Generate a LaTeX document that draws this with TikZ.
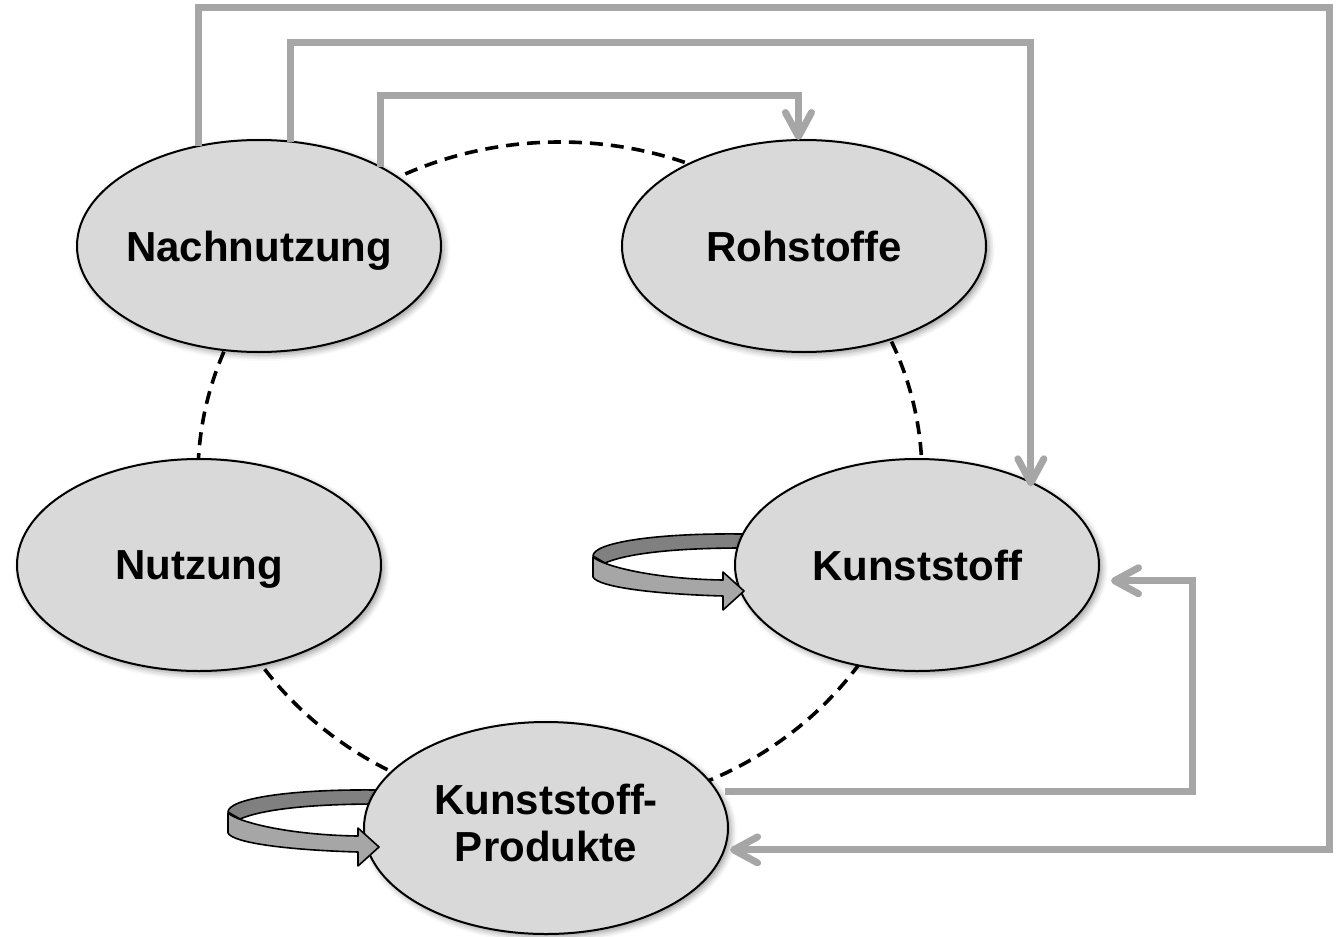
\documentclass[tikz,border=0pt]{standalone}
\usepackage{fontspec}
\setmainfont{Liberation Sans}
\usetikzlibrary{arrows.meta,shapes.geometric,shadows.blur}
\definecolor{connc}{RGB}{166,166,166}
\definecolor{nodefill}{RGB}{217,217,217}
\definecolor{ribbondark}{RGB}{128,128,128}
\definecolor{ribbonlight}{RGB}{166,166,166}
\begin{document}
\begin{tikzpicture}[x=0.5pt,y=-0.5pt,
  stage/.style={ellipse, draw=black, line width=1pt, fill=nodefill,
    minimum width=182pt, minimum height=106pt, inner xsep=-6pt, inner ysep=0pt,
    outer sep=0pt, font=\fontsize{21}{23.5}\selectfont\bfseries, align=center,
    text depth=0pt,
    blur shadow={shadow xshift=1.5pt, shadow yshift=-1.5pt, shadow blur radius=3pt, shadow opacity=40}},
  ring/.style={draw=black, line width=1.8pt, dash pattern=on 6.5pt off 4pt},
  flow/.style={draw=connc, line width=3.5pt, -{Straight Barb[length=12pt,width=13pt,round]}},
  ribbonback/.style={fill=ribbondark, draw=black, line width=0.8pt, line join=round},
  ribbonfront/.style={fill=ribbonlight, draw=black, line width=0.8pt, line join=round},
]
\useasboundingbox (0,0) rectangle (1336,936);

% dashed cycle
\draw[ring] (560,476) ellipse [x radius=181pt, y radius=167pt];

% back parts of the self-loops
\begin{scope}[shift={(593,557)}]
  \path[ribbonback] (149,-23) .. controls (60,-24) and (0,-14) .. (0,-1)
    -- (12,6) .. controls (40,-6) and (100,-9) .. (149,-9) -- cycle;
\end{scope}
\begin{scope}[shift={(228,813)}]
  \path[ribbonback] (149,-23) .. controls (60,-24) and (0,-14) .. (0,-1)
    -- (12,6) .. controls (40,-6) and (100,-9) .. (149,-9) -- cycle;
\end{scope}

% helper coordinates for the connector routes
\coordinate (c1) at (1329,8);
\coordinate (c2) at (0,43);
\coordinate (c3) at (0,96);
\coordinate (c4) at (1192,0);

% stages
\node[stage] (nach) at (259,246) {Nachnutzung};
\node[stage] (roh) at (804,246) {Rohstoffe};
\node[stage] (nutz) at (199,565) {Nutzung};
\node[stage] (kunst) at (917,565) {Kunststoff};
\node[stage, text depth=5pt] (prod) at (546,828) {Kunststoff-\\Produkte};

\draw[flow, shorten >=3pt] (nach.121) |- (c1) |- (prod.-7.4);
\draw[flow, shorten >=-2pt] (nach.73.5) -- (nach.73.5 |- c2) -| (kunst.36.3);
\draw[flow] (nach.33.2) -- (nach.33.2 |- c3) -| (roh.93.8);
\draw[flow, shorten <=4pt, shorten >=7pt] (prod.12.3) -- (prod.12.3 -| c4) |- (kunst.-5.4);

% front parts of the self-loops
\begin{scope}[shift={(593,557)}]
  \path[ribbonfront] (0,0) .. controls (10,9) and (60,22) .. (130,23)
    -- (130,15) -- (151,34) -- (130,53) -- (130,39)
    .. controls (60,37) and (5,30) .. (0,20) -- cycle;
\end{scope}
\begin{scope}[shift={(228,813)}]
  \path[ribbonfront] (0,0) .. controls (10,9) and (60,22) .. (130,23)
    -- (130,15) -- (151,34) -- (130,53) -- (130,39)
    .. controls (60,37) and (5,30) .. (0,20) -- cycle;
\end{scope}
\end{tikzpicture}
\end{document}
